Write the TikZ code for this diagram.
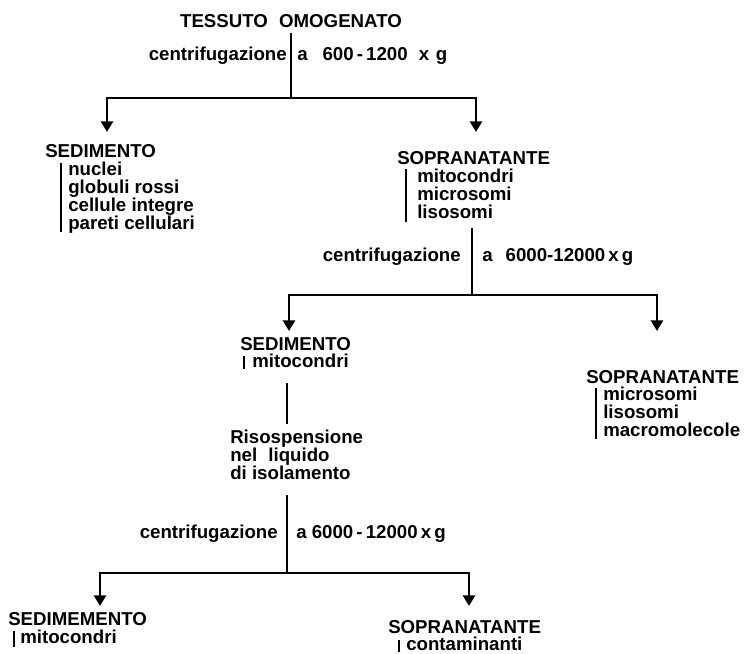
\documentclass[tikz,border=0pt]{standalone}
\usepackage{fontspec}
\setmainfont{Liberation Sans}
\usetikzlibrary{arrows.meta}
\begin{document}
\begin{tikzpicture}[x=0.75pt,y=-0.75pt,
  txt/.style={inner sep=0pt,font=\fontsize{14}{16}\selectfont\bfseries},
  lw/.style={txt,anchor=base west},
  le/.style={txt,anchor=base east},
  conn/.style={line width=2.1pt},
  arr/.style={conn,-{Triangle[width=9pt,length=8pt]}},
  bar/.style={line width=1.6pt}]
\useasboundingbox[fill=white] (0,0) rectangle (744,654);

% ---- level 1
\node[txt,anchor=base] (title) at (291,27) {TESSUTO\hspace{0.6em}OMOGENATO};
\node[le] (c1a) at (287,60) {centrifugazione};
\node[lw] (c1b) at (297,60) {a\hspace{0.8em}600\,-\,1200\hspace{0.6em}x\hspace{0.35em}g};
\coordinate (j1) at (291,98);
\coordinate (a1) at (107,132);
\coordinate (a2) at (476,132);
\draw[conn,shorten <=4.5pt] (title.south) -- (j1);
\draw[arr] (j1) -| (a1);
\draw[arr] (j1) -| (a2);

\node[lw] (sed1) at (45,157) {SEDIMENTO};
\node[lw] (s1l1) at (68,175) {nuclei};
\node[lw] (s1l2) at (68,193) {globuli rossi};
\node[lw] (s1l3) at (68,211) {cellule integre};
\node[lw] (s1l4) at (68,229) {pareti cellulari};
\coordinate (b1t) at (61,163);
\coordinate (b1b) at (61,232);
\draw[bar] (b1t) -- (b1b);

\node[lw] (sop1) at (397,164) {SOPRANATANTE};
\node[lw] (p1l1) at (417,182) {mitocondri};
\node[lw] (p1l2) at (417,200) {microsomi};
\node[lw] (p1l3) at (417,218) {lisosomi};
\coordinate (b2t) at (406,169);
\coordinate (b2b) at (406,222);
\draw[bar] (b2t) -- (b2b);

% ---- level 2
\coordinate (s1bot) at (472,228);
\coordinate (j2) at (472,295);
\draw[conn] (s1bot) -- (j2);
\node[le] (c2a) at (461,261) {centrifugazione};
\node[lw] (c2b) at (482,261) {a\hspace{0.7em}6000-12000\,x\,g};
\coordinate (a3) at (289,331);
\coordinate (a4) at (657,331);
\draw[arr] (j2) -| (a3);
\draw[arr] (j2) -| (a4);

\node[lw] (sed2) at (240,350) {SEDIMENTO};
\node[lw] (s2l1) at (252,367) {mitocondri};
\coordinate (b3t) at (244,356);
\coordinate (b3b) at (244,369);
\draw[bar] (b3t) -- (b3b);

\node[lw] (sop2) at (586,383) {SOPRANATANTE};
\node[lw] (p2l1) at (603,400) {microsomi};
\node[lw] (p2l2) at (603,418) {lisosomi};
\node[lw] (p2l3) at (603,436) {macromolecole};
\coordinate (b4t) at (596,388);
\coordinate (b4b) at (596,439);
\draw[bar] (b4t) -- (b4b);

% ---- resuspension
\coordinate (r1t) at (287,383);
\coordinate (r1b) at (287,424);
\draw[conn] (r1t) -- (r1b);
\node[lw] (ris1) at (230,443) {Risospensione};
\node[lw] (ris2) at (230,461) {nel\hspace{0.6em}liquido};
\node[lw] (ris3) at (230,479) {di isolamento};

% ---- level 3
\coordinate (r2t) at (287,495);
\coordinate (j3) at (287,573);
\draw[conn] (r2t) -- (j3);
\node[le] (c3a) at (278,538) {centrifugazione};
\node[lw] (c3b) at (296,538) {a 6000\,-\,12000\,x\,g};
\coordinate (a5) at (100,606);
\coordinate (a6) at (469,606);
\draw[arr] (j3) -| (a5);
\draw[arr] (j3) -| (a6);

\node[lw] (sed3) at (8,625) {SEDIMEMENTO};
\node[lw] (s3l1) at (20,643) {mitocondri};
\coordinate (b5t) at (14,631);
\coordinate (b5b) at (14,647);
\draw[bar] (b5t) -- (b5b);

\node[lw] (sop3) at (388,633) {SOPRANATANTE};
\node[lw] (p3l1) at (406,650) {contaminanti};
\coordinate (b6t) at (399,640);
\coordinate (b6b) at (399,652);
\draw[bar] (b6t) -- (b6b);
\end{tikzpicture}
\end{document}
